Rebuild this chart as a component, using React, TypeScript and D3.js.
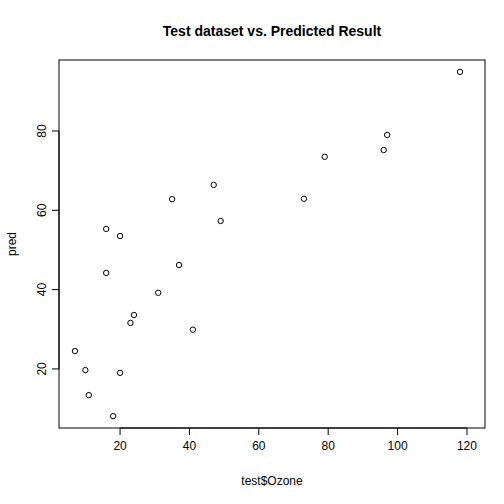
import * as d3 from "d3";

const ozone = [7, 10, 11, 18, 16, 16, 20, 20, 23, 24, 31, 35, 37, 41, 47, 49, 73, 79, 96, 97, 118];
const pred = [24.5, 19.7, 13.4, 8.1, 55.3, 44.2, 53.5, 19.0, 31.6, 33.6, 39.2, 62.8, 46.2, 29.9, 66.4, 57.3, 62.9, 73.5, 75.2, 79.0, 94.9];
const xTicks = [20, 40, 60, 80, 100, 120];
const yTicks = [20, 40, 60, 80];
const xDomain = [2.4, 125.2];
const yDomain = [5.1, 97.9];

export default function App() {
  const width = 504, height = 504;
  const m = { left: 59, right: 485, top: 60, bottom: 428 };
  const x = d3.scaleLinear().domain(xDomain).range([m.left, m.right]);
  const y = d3.scaleLinear().domain(yDomain).range([m.bottom, m.top]);
  const font = "'Liberation Sans', Arial, sans-serif";

  return (
    <svg width={width} height={height} style={{ position: "absolute", left: 0, top: 0, background: "#fff" }} fontFamily={font}>
      <rect x={m.left} y={m.top} width={m.right - m.left} height={m.bottom - m.top} fill="none" stroke="#000" />
      <text x={(m.left + m.right) / 2} y={36} textAnchor="middle" fontSize={14} fontWeight="bold">
        Test dataset vs. Predicted Result
      </text>
      <line x1={x(20)} x2={x(120)} y1={m.bottom} y2={m.bottom} stroke="#000" />
      {xTicks.map((t) => (
        <g key={t}>
          <line x1={x(t)} x2={x(t)} y1={m.bottom} y2={m.bottom + 7} stroke="#000" />
          <text x={x(t)} y={m.bottom + 22} textAnchor="middle" fontSize={12}>{t}</text>
        </g>
      ))}
      <line x1={m.left} x2={m.left} y1={y(20)} y2={y(80)} stroke="#000" />
      {yTicks.map((t) => (
        <g key={t}>
          <line x1={m.left - 7} x2={m.left} y1={y(t)} y2={y(t)} stroke="#000" />
          <text transform={`translate(${m.left - 13},${y(t)}) rotate(-90)`} textAnchor="middle" fontSize={12}>{t}</text>
        </g>
      ))}
      <text x={(m.left + m.right) / 2} y={485} textAnchor="middle" fontSize={12}>test$Ozone</text>
      <text transform={`translate(16,${(m.top + m.bottom) / 2}) rotate(-90)`} textAnchor="middle" fontSize={12}>pred</text>
      {ozone.map((v, i) => (
        <circle key={i} cx={x(v)} cy={y(pred[i])} r={2.7} fill="none" stroke="#000" strokeWidth={1} />
      ))}
    </svg>
  );
}
